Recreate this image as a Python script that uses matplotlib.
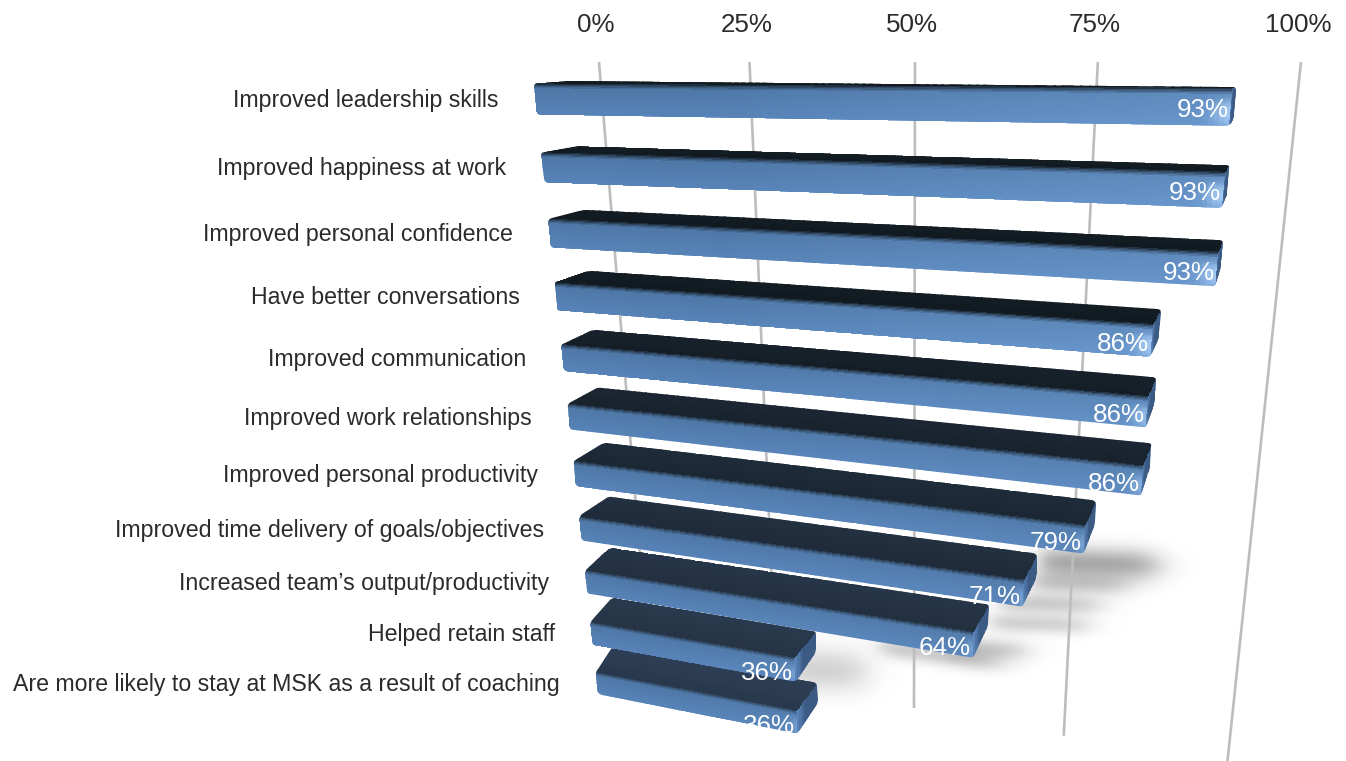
import numpy as np
import matplotlib
matplotlib.use('Agg')
import matplotlib.pyplot as plt
from matplotlib.path import Path
from matplotlib.patches import Polygon
from matplotlib.transforms import Transform

# Survey results, top bar first
categories = [
    "Improved leadership skills",
    "Improved happiness at work",
    "Improved personal confidence",
    "Have better conversations",
    "Improved communication",
    "Improved work relationships",
    "Improved personal productivity",
    "Improved time delivery of goals/objectives",
    "Increased team\u2019s output/productivity",
    "Helped retain staff",
    "Are more likely to stay at MSK as a result of coaching",
]
values = [93, 93, 93, 86, 86, 86, 79, 71, 64, 36, 36]
axis_ticks = [0, 25, 50, 75, 100]


class Homography(Transform):
    """Perspective mapping from (percent, row) to pixel positions."""
    input_dims = 2
    output_dims = 2

    def __init__(self, matrix):
        super().__init__()
        self.matrix = np.asarray(matrix, float)

    def transform_non_affine(self, values):
        xy = np.ma.filled(np.ma.asarray(values, float), np.nan)
        pts = np.column_stack([xy, np.ones(len(xy))])
        out = pts @ self.matrix.T
        return out[:, :2] / out[:, 2:3]


# Three planes of the tilted scene: bar fronts, bar back edges, back wall
FRONT = Homography([[5.100207, 17.59421, 533.5739],
                    [-0.1232467, 71.79082, 83.38136],
                    [-0.001957768, 0.01918904, 1]])
BACK = Homography([[4.91197, 15.95587, 571.3011],
                   [-0.09302434, 68.0865, 80.74388],
                   [-0.001811099, 0.01759353, 1]])
WALL = Homography([[4.661, 173.3, 599],
                   [-0.1124, 722.4, 62],
                   [-0.001813, 0.1906, 1]])

BAR_H = 0.45
BACK_H = 0.40
FONT = 'Liberation Sans'
INK = '#2b2b2b'


def rgb(code):
    return np.array(matplotlib.colors.to_rgb(code))


def lerp(a, b, t):
    t = np.asarray(t)[..., None] if np.ndim(t) else t
    return a + (b - a) * t


def rounded(points, radius):
    """Closed path through the corners with each corner softened."""
    pts = [np.asarray(p, float) for p in points]
    verts, codes = [], []
    n = len(pts)
    for k in range(n):
        prev, cur, nxt = pts[k - 1], pts[k], pts[(k + 1) % n]
        r1 = min(radius, np.linalg.norm(prev - cur) / 2)
        r2 = min(radius, np.linalg.norm(nxt - cur) / 2)
        a = cur + (prev - cur) / np.linalg.norm(prev - cur) * r1
        b = cur + (nxt - cur) / np.linalg.norm(nxt - cur) * r2
        verts.append(a)
        codes.append(Path.MOVETO if k == 0 else Path.LINETO)
        verts += [cur, b]
        codes += [Path.CURVE3, Path.CURVE3]
    verts.append(verts[0])
    codes.append(Path.CLOSEPOLY)
    return Path(verts, codes)


def front_dark(row):
    return lerp(rgb('#121b22'), rgb('#2b3b50'), float(np.clip((row - 3) / 7, 0, 1)))


def front_colours(rows, cols, row, value):
    s = (np.arange(rows) + .5) / rows
    u = (np.arange(cols) + .5) / cols
    ss, uu = np.meshgrid(s, u, indexing='ij')
    upper = np.clip((6 - row) / 3, 0, 1)
    left_tone = lerp(rgb('#4d76a4'), rgb('#5783b8'), ss)
    right_tone = lerp(rgb('#5e8abc'), rgb('#6997cd'), ss)
    tone = lerp(left_tone, right_tone, np.clip((uu - .3) / .7, 0, 1) * (.25 + .75 * upper))
    # soft transition out of the dark top face
    tone = lerp(front_dark(row), tone, np.clip(ss / .17, 0, 1) ** .7)
    # bright bevel along the far end
    end = (1 - uu) * value
    glow = np.exp(-(end / (1.1 + .8 * upper)) ** 2) * np.clip((ss - .1) / .3, 0, 1)
    tone = lerp(tone, rgb('#a9cff8'), glow * (.35 + .55 * upper) * np.exp(-((ss - .65) / .4) ** 2))
    return np.clip(tone, 0, 1)


fig = plt.figure(figsize=(13.46, 7.61), dpi=100, facecolor='white')
ax = fig.add_axes([0, 0, 1, 1])

# Soft ground shadows behind the lower bars: far end x, centre y, half height,
# strength, start x, slope
shadow_bands = [
    (1163, 565, 16, .34, 1040, .03),
    (1133, 585, 11, .20, 1030, .03),
    (1105, 605, 10, .20, 1000, .03),
    (1093, 625, 10, .18, 990, .03),
    (1030, 651, 11, .22, 950, .05),
    (1005, 664, 10, .20, 880, .14),
    (872, 671, 22, .18, 790, .03),
]
gy, gx = np.mgrid[0:761, 0:1346]
shade = np.zeros(gx.shape)
for end_x, yc, hh, amount, start_x, slope in shadow_bands:
    across = np.exp(-((gy - yc - slope * (gx - end_x)) / hh) ** 2)
    along = .5 * (1 - np.tanh((gx - end_x + 8) / 20)) * .5 * (1 + np.tanh((gx - start_x) / 12))
    shade = 1 - (1 - shade) * (1 - amount * across * along)
shadow_img = np.zeros(gx.shape + (4,))
shadow_img[..., 3] = shade
ax.imshow(shadow_img, extent=(0, 1346, 761, 0), zorder=1, interpolation='bilinear', aspect='auto')

# Back wall gridlines with their percent labels on top
for tick in axis_ticks:
    t = np.linspace(0, 1, 2)
    ax.plot(np.full(2, tick), t, color='#bdbdbd', lw=1.9,
            solid_capstyle='butt', transform=WALL + ax.transData, zorder=2)
    ax.annotate(f'{tick}%', xy=(tick, 0), xycoords=WALL + ax.transData,
                xytext=(-2.2, 27), textcoords='offset points',
                ha='center', va='center', fontsize=18.7, family=FONT,
                color=INK, zorder=3)

# Bars, painted from the lowest row up so that upper rows overlap lower ones
for row in range(len(values) - 1, -1, -1):
    value = values[row]
    z = 10 + (len(values) - row) * 2

    # the back edge starts a little earlier on the lowest rows
    back_start = -.55 * float(np.clip(row - 7, 0, 3))

    ftl, ftr, fbr, fbl = FRONT.transform(np.array([(0, row), (value, row),
                                                   (value, row + BAR_H), (0, row + BAR_H)], float))
    btl, btr, bbr = BACK.transform(np.array([(back_start, row), (value, row),
                                             (value, row + BACK_H)], float))

    outline = rounded([ftl, btl, btr, bbr, fbr, fbl], 4)

    # end cap
    cap_s = np.linspace(0, 1, 9)
    top_edge = np.outer(1 - cap_s, ftr) + np.outer(cap_s, btr)
    bot_edge = np.outer(1 - cap_s, fbr) + np.outer(cap_s, bbr)
    cap_x = np.vstack([top_edge[:, 0], bot_edge[:, 0]])
    cap_y = np.vstack([top_edge[:, 1], bot_edge[:, 1]])
    cap_tone = lerp(rgb('#5f8ac0'), rgb('#3b5a84'), np.clip((cap_s[:-1] + .06) / .45, 0, 1))
    cap = ax.pcolormesh(cap_x, cap_y, cap_tone[None, :, :], zorder=z)
    cap.set_clip_path(outline, ax.transData)

    # top face, from back edge to front edge
    n_top = 90
    back_edge = BACK.transform(np.column_stack([np.linspace(back_start, value, n_top + 1),
                                                np.full(n_top + 1, float(row))]))
    front_edge = FRONT.transform(np.column_stack([np.linspace(0, value, n_top + 1),
                                                  np.full(n_top + 1, float(row))]))
    steps = np.linspace(0, 1, 7)[:, None, None]
    grid = back_edge[None, :, :] * (1 - steps) + front_edge[None, :, :] * steps
    dark = front_dark(row)
    top_tone = np.zeros((6, n_top, 3))
    for j in range(6):
        top_tone[j, :, :] = dark * (1.06 - .02 * j)
    top = ax.pcolormesh(grid[..., 0], grid[..., 1], np.clip(top_tone, 0, 1), zorder=z)
    top.set_clip_path(outline, ax.transData)

    # front face in its own percent / row coordinates
    n_v, n_r = 160, 26
    vs = np.linspace(0, value, n_v + 1)
    rs = np.linspace(row, row + BAR_H, n_r + 1)
    front = ax.pcolormesh(vs, rs, front_colours(n_r, n_v, row, value),
                          transform=FRONT + ax.transData, zorder=z + .1)
    front.set_clip_path(outline, ax.transData)

    ax.annotate(categories[row], xy=(0, row + BAR_H / 2),
                xycoords=FRONT + ax.transData, xytext=(-26.2, -1),
                textcoords='offset points', ha='right', va='center',
                fontsize=16.65, family=FONT, color=INK, zorder=60)
    ax.annotate(f'{value}%', xy=(value, row + BAR_H / 2),
                xycoords=FRONT + ax.transData, xytext=(-1.6, -2.4),
                textcoords='offset points', ha='right', va='center',
                fontsize=18.7, family=FONT, color='white', zorder=z + .5)

# The last row's value runs off the bar's lower edge and is cut there
last = len(values) - 1
edge_v = np.linspace(values[last] - 12, values[last], 8)
edge = FRONT.transform(np.column_stack([edge_v, np.full_like(edge_v, last + BAR_H)]))
mask = np.vstack([edge, edge[::-1] + [0, 40]])
ax.add_patch(Polygon(mask, closed=True, facecolor='white', edgecolor='none', zorder=60))

ax.set_xlim(0, 1346)
ax.set_ylim(761, 0)
ax.axis('off')
fig.savefig('out.png', dpi=100, facecolor='white')
